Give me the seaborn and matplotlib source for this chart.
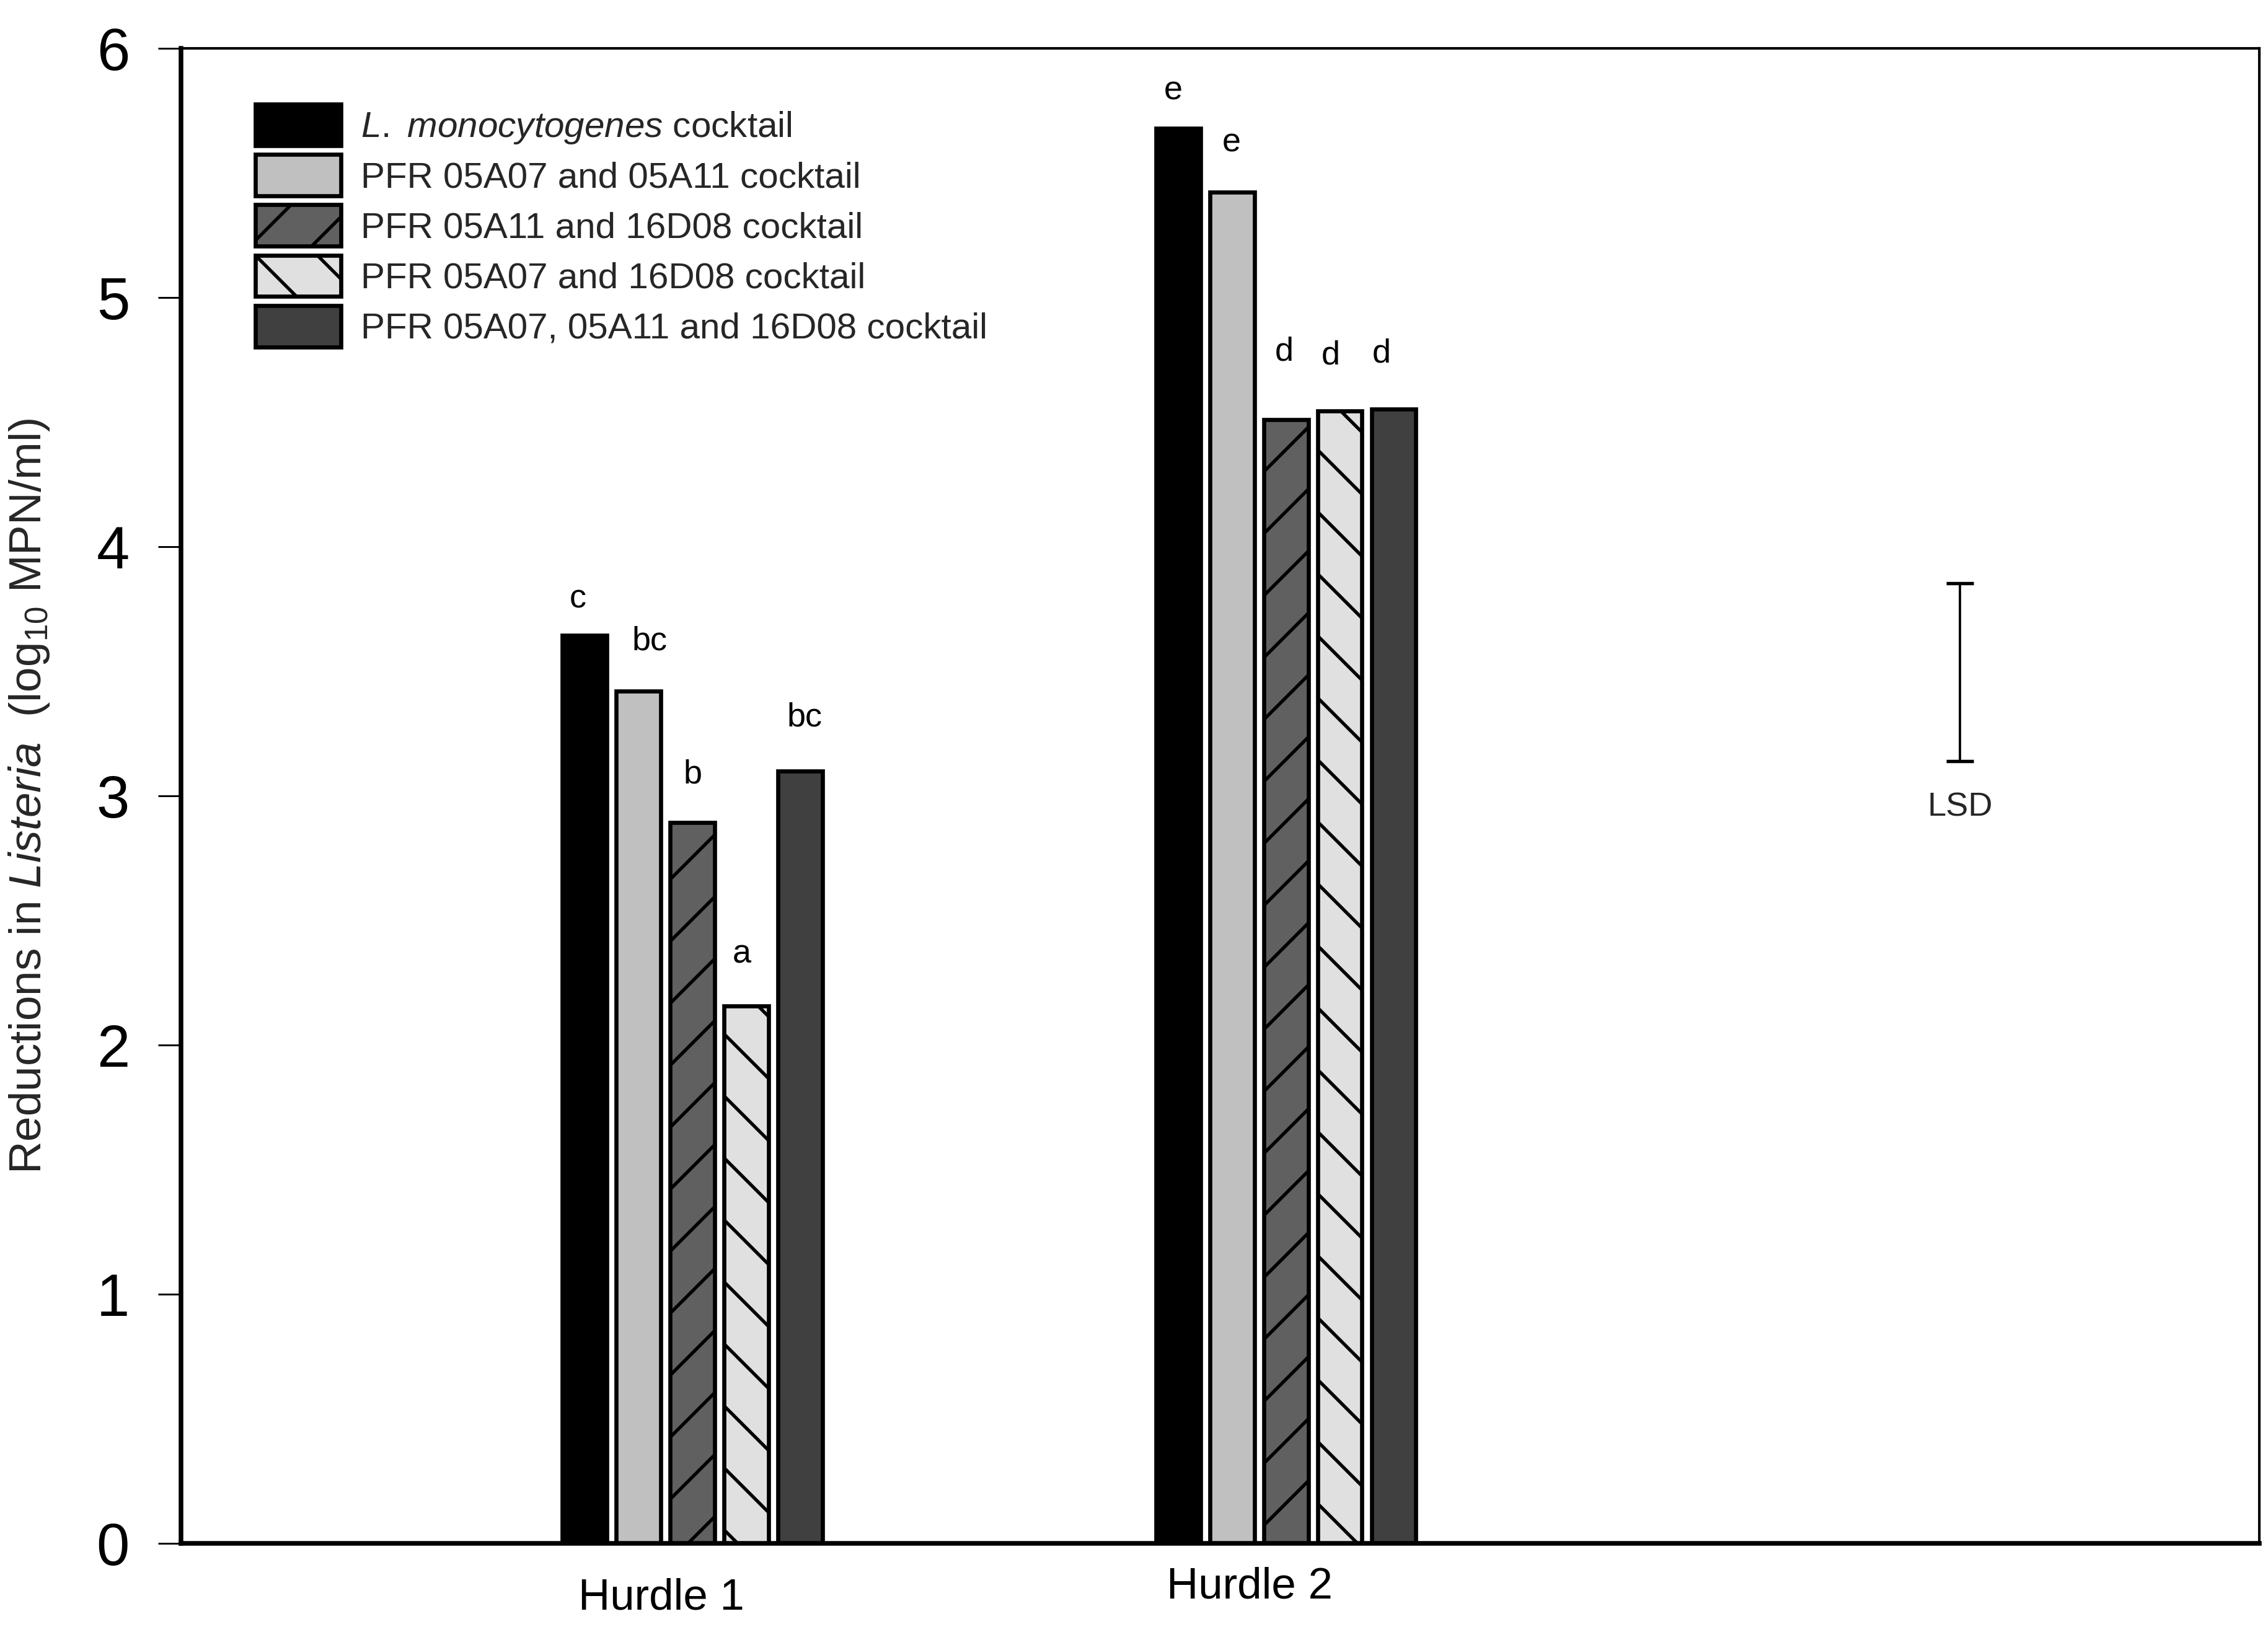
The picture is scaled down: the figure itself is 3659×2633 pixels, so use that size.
import matplotlib
matplotlib.use("Agg")
import numpy as np
import pandas as pd
import seaborn as sns
import matplotlib.pyplot as plt
from matplotlib.patches import Patch
from matplotlib.transforms import ScaledTranslation

# ---------------- data ----------------
hurdles = ["Hurdle 1", "Hurdle 2"]
treatments = [
    "L. monocytogenes cocktail",
    "PFR 05A07 and 05A11 cocktail",
    "PFR 05A11 and 16D08 cocktail",
    "PFR 05A07 and 16D08 cocktail",
    "PFR 05A07, 05A11 and 16D08 cocktail",
]
legend_labels = [
    r"$\mathit{L.}$ $\mathit{monocytogenes}$ cocktail",
    "PFR 05A07 and 05A11 cocktail",
    "PFR 05A11 and 16D08 cocktail",
    "PFR 05A07 and 16D08 cocktail",
    "PFR 05A07, 05A11 and 16D08 cocktail",
]
hurdle1_values = [3.645, 3.42, 2.893, 2.157, 3.10]
hurdle2_values = [5.678, 5.423, 4.51, 4.545, 4.552]
hurdle1_letters = ["c", "bc", "b", "a", "bc"]
hurdle2_letters = ["e", "e", "d", "d", "d"]
lsd_value = 0.714
lsd_center = 3.497
lsd_label = "LSD"
yticks = [0, 1, 2, 3, 4, 5, 6]

# ---------------- style ----------------
fill_colors = ["#000000", "#c0c0c0", "#606060", "#e0e0e0", "#404040"]
hatches = ["", "", "/", "\\", ""]
# letter placement nudges (points): (dx, baseline gap above bar top)
letter_nudges = [
    [(-2.5, 10.7), (4.2, 16.0), (0.0, 15.3), (-1.7, 16.6), (1.7, 17.3)],
    [(-2.0, 11.3), (-0.3, 15.8), (-0.7, 22.8), (-3.6, 18.0), (-4.8, 18.2)],
]

sns.set_theme(style="ticks")
plt.rcParams["font.family"] = ["Liberation Sans", "DejaVu Sans"]
plt.rcParams["mathtext.fontset"] = "custom"
plt.rcParams["mathtext.rm"] = "Liberation Sans"
plt.rcParams["mathtext.it"] = "Liberation Sans:italic"
plt.rcParams["hatch.linewidth"] = 1.3
plt.rcParams["hatch.color"] = "black"

rows = []
for h, vals in zip(hurdles, [hurdle1_values, hurdle2_values]):
    for t, v in zip(treatments, vals):
        rows.append({"hurdle": h, "treatment": t, "reduction": v})
df = pd.DataFrame(rows)
letters = [hurdle1_letters, hurdle2_letters]

W, H = 3659, 2633
fig = plt.figure(figsize=(W / 300, H / 300), dpi=300)
ax = fig.add_axes([292 / W, 1 - 2490 / H, (3645 - 292) / W, (2490 - 78) / H])

sns.barplot(
    data=df, x="hurdle", y="reduction", hue="treatment",
    order=hurdles, hue_order=treatments, palette=fill_colors,
    saturation=1, width=0.454, gap=0.173, errorbar=None,
    edgecolor="black", linewidth=1.6, legend=False, ax=ax,
)

for i, cont in enumerate(ax.containers):
    for bar in cont:
        bar.set_hatch(hatches[i])
        xc = bar.get_x() + bar.get_width() / 2
        hi = int(round(xc))
        dx, dy = letter_nudges[hi][i]
        ax.annotate(letters[hi][i], (xc, bar.get_height()),
                    xytext=(dx, dy), textcoords="offset points",
                    ha="center", va="baseline", fontsize=13, color="black")

# LSD bar
lsd_x = 2.136
ax.errorbar(lsd_x, lsd_center, yerr=lsd_value / 2, fmt="none", ecolor="black",
            elinewidth=0.9, capsize=5.2, capthick=1.3)
ax.annotate(lsd_label, (lsd_x, lsd_center - lsd_value / 2), xytext=(0, -12),
            textcoords="offset points", ha="center", va="top", fontsize=13)

ax.set_xlim(-0.8616, 2.640)
ax.set_ylim(0, 6)
ax.set_yticks(yticks)
ax.set_yticklabels([str(t) for t in yticks], fontsize=23)
ax.tick_params(axis="y", direction="out", length=8.9, width=0.7, pad=11, colors="black")
ax.tick_params(axis="x", length=0, pad=13.4, labelsize=17, colors="black")
ax.set_xlabel("")
ax.set_ylabel(r"Reductions in $\mathit{Listeria}$  (log$_{10}$ MPN/ml)", fontsize=17.5)
ax.yaxis.set_label_coords(-0.0622, 0.5)

label_shifts = [(-12.1, 0.0), (-14.0, 4.3)]
for lab, (dx, dy) in zip(ax.get_xticklabels(), label_shifts):
    lab.set_transform(lab.get_transform() + ScaledTranslation(dx / 72, dy / 72, fig.dpi_scale_trans))

for side in ["left", "bottom"]:
    ax.spines[side].set_linewidth(1.8)
for side in ["top", "right"]:
    ax.spines[side].set_linewidth(1.0)
for s in ax.spines.values():
    s.set_color("black")
    s.set_visible(True)

handles = [Patch(facecolor=c, edgecolor="black", hatch=h, linewidth=1.6)
           for c, h in zip(fill_colors, hatches)]
ax.legend(handles, legend_labels, loc="upper left", bbox_to_anchor=(0.0358, 0.9627),
          frameon=False, fontsize=14, handlelength=2.37, handleheight=1.38,
          labelspacing=0.25, handletextpad=0.55, borderpad=0, borderaxespad=0)

fig.savefig("out.png", dpi=300)
